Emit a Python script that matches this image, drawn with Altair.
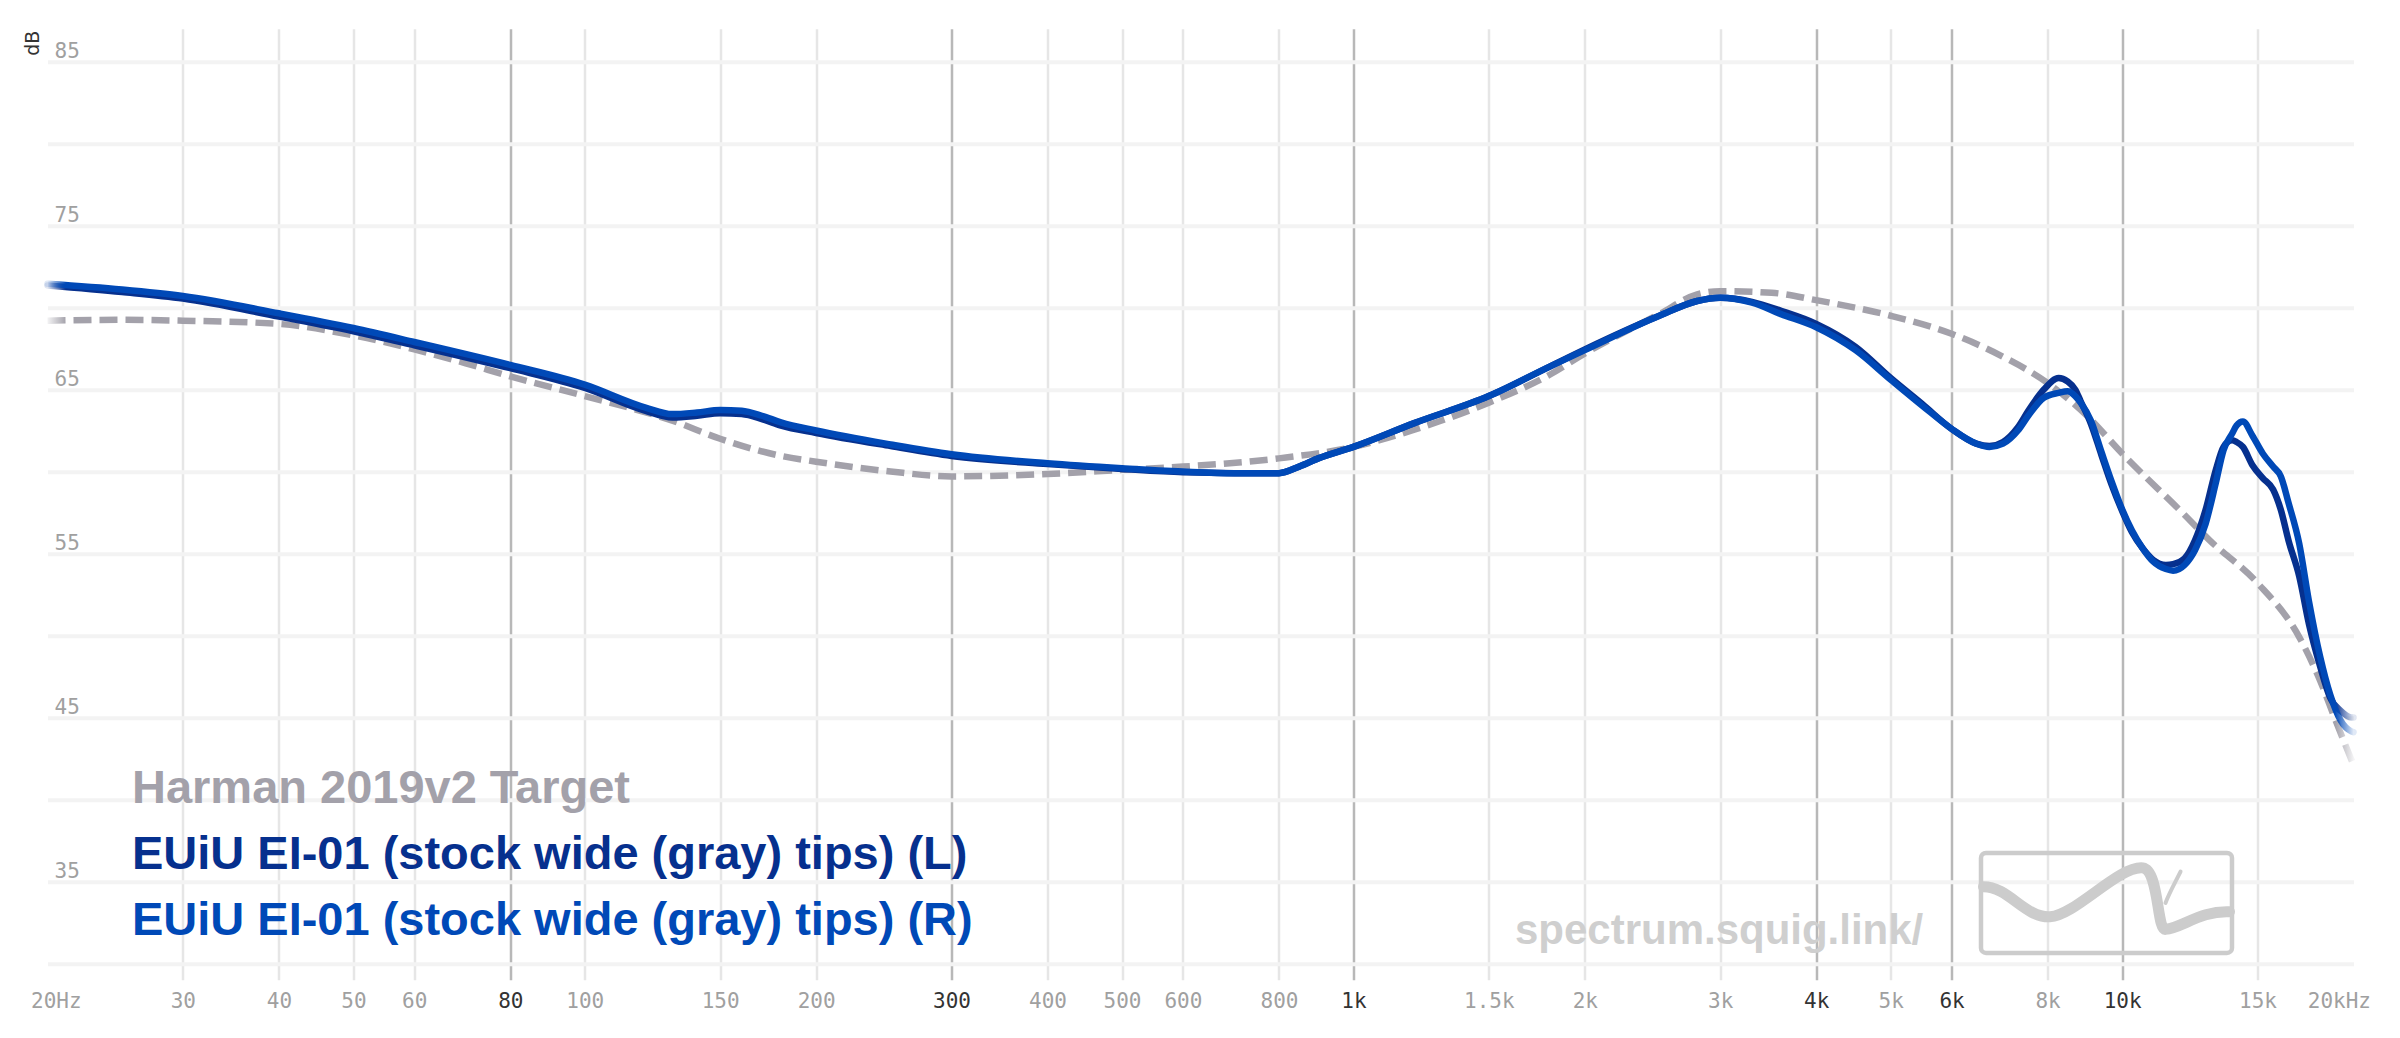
import altair as alt
import pandas as pd

# ---------------- data ----------------
FREQ = [20, 25, 30, 40, 50, 60, 80, 100, 120, 130, 140, 150, 160, 170, 180, 200, 250, 300,
        400, 500, 600, 700, 800, 850, 900, 1000, 1200, 1500, 1800, 2000, 2500, 2800, 3000,
        3300, 3600, 4000, 4500, 5000, 5500, 6000, 6460, 6720, 7000, 7320, 7550, 7910, 8270,
        8490, 8690, 8830, 9110, 9400, 9690, 10000, 10300, 10640, 10980, 11400, 11650, 12060,
        12440, 12840, 13240, 13550, 13900, 14090, 14360, 14770, 15240, 15720, 16090, 16460,
        17000, 17500, 18100, 18650, 19250, 19870, 20000]

L_DB = [71.35, 70.95, 70.55, 69.45, 68.55, 67.7, 66.3, 65.1, 63.7, 63.3, 63.4, 63.55, 63.5,
        63.2, 62.8, 62.35, 61.55, 60.95, 60.45, 60.15, 59.95, 59.9, 59.9, 60.3, 60.8, 61.5,
        62.95, 64.6, 66.4, 67.45, 69.5, 70.4, 70.6, 70.35, 69.8, 69.0, 67.6, 65.7, 64.1, 62.6,
        61.7, 61.55, 61.8, 62.7, 63.7, 65.0, 65.7, 65.5, 65.0, 64.3, 62.9, 61.0, 59.2, 57.6,
        56.3, 55.3, 54.6, 54.3, 54.35, 54.7, 55.8, 57.65, 60.1, 61.5, 61.9, 61.8, 61.5, 60.4,
        59.6, 58.9, 57.65, 55.8, 53.6, 50.7, 48.1, 46.2, 45.4, 45.0, 45.0]

R_DB = [71.45, 71.1, 70.7, 69.65, 68.75, 67.9, 66.5, 65.3, 63.9, 63.5, 63.6, 63.75, 63.7,
        63.4, 63.0, 62.5, 61.65, 61.05, 60.5, 60.2, 60.0, 59.9, 59.9, 60.3, 60.8, 61.5,
        62.95, 64.6, 66.4, 67.4, 69.5, 70.4, 70.6, 70.3, 69.6, 68.8, 67.4, 65.6, 64.0, 62.6,
        61.7, 61.5, 61.7, 62.5, 63.4, 64.5, 64.8, 64.9, 64.6, 64.2, 63.1, 61.2, 59.4, 57.7,
        56.4, 55.3, 54.5, 54.05, 53.95, 54.3, 55.2, 56.8, 59.3, 61.3, 62.3, 62.8, 63.05, 62.2,
        61.1, 60.3, 59.7, 58.1, 55.6, 52.1, 48.7, 46.4, 44.8, 44.15, 44.1]

T_FREQ = [20, 25, 30, 40, 50, 60, 70, 80, 100, 130, 150, 180, 200, 250, 300, 400, 500, 600,
          800, 1000, 1200, 1500, 1800, 2000, 2500, 2800, 3000, 3500, 4000, 5000, 6000, 7000,
          8000, 9000, 10000, 12000, 13000, 15000, 17000, 18000, 19000, 20000]
T_DB = [69.2, 69.25, 69.2, 69.0, 68.3, 67.45, 66.6, 65.8, 64.6, 63.1, 62.0, 60.95, 60.6, 60.0,
        59.7, 59.85, 60.1, 60.3, 60.8, 61.5, 62.55, 64.2, 65.9, 67.2, 69.6, 70.8, 71.0, 70.9,
        70.45, 69.5, 68.4, 67.0, 65.4, 63.4, 61.1, 57.45, 55.8, 53.2, 49.9, 47.5, 44.7, 42.1]

X_TICKS = [20, 30, 40, 50, 60, 80, 100, 150, 200, 300, 400, 500, 600, 800, 1000, 1500, 2000,
           3000, 4000, 5000, 6000, 8000, 10000, 15000, 20000]
DARK_TICKS = [80, 300, 1000, 4000, 6000, 10000]
Y_GRID = [30, 35, 40, 45, 50, 55, 60, 65, 70, 75, 80, 85]

LEGEND = ["Harman 2019v2 Target",
          "EUiU EI-01 (stock wide (gray) tips) (L)",
          "EUiU EI-01 (stock wide (gray) tips) (R)"]
WATERMARK = "spectrum.squig.link/"

# ---------------- styles ----------------
TARGET_C = "#a3a1aa"
L_C = "#06308e"
R_C = "#0049b7"


def fade(hexc):
    r, g, b = int(hexc[1:3], 16), int(hexc[3:5], 16), int(hexc[5:7], 16)
    faint = f"rgba({r},{g},{b},0.12)"
    return alt.LinearGradient(
        gradient="linear",
        stops=[alt.GradientStop(color=faint, offset=0),
               alt.GradientStop(color=hexc, offset=0.008),
               alt.GradientStop(color=hexc, offset=0.992),
               alt.GradientStop(color=faint, offset=1)],
        x1=0, x2=1, y1=0, y2=0)


dark_list = "[" + ",".join(str(v) for v in DARK_TICKS) + "]"

x_axis = alt.Axis(
    values=X_TICKS,
    labelExpr="datum.value == 20 ? '20Hz' : datum.value == 20000 ? '20kHz' : "
              "datum.value >= 1000 ? (datum.value / 1000) + 'k' : datum.label",
    labelFont="DejaVu Sans Mono", labelFontSize=21,
    labelColor={"condition": {"test": f"indexof({dark_list}, datum.value) >= 0", "value": "#333333"},
                "value": "#a0a0a0"},
    labelPadding=11, labelFlush=True, labelFlushOffset=17, labelOverlap=False,
    ticks=False, tickSize=0, domain=False, grid=True,
    gridColor={"condition": {"test": f"indexof({dark_list}, datum.value) >= 0", "value": "#b8b8b8"},
               "value": "#e6e6e6"},
    gridOpacity={"condition": {"test": "datum.value == 20 || datum.value == 20000", "value": 0},
                 "value": 1},
    gridWidth=2.5, title=None)

y_axis = alt.Axis(
    values=Y_GRID,
    labelExpr="datum.value % 10 == 5 ? datum.label : ''",
    labelAlign="left", labelBaseline="alphabetic", labelPadding=-6.5, labelOffset=-4,
    labelFont="DejaVu Sans Mono", labelFontSize=21, labelColor="#a0a0a0", labelOverlap=False,
    ticks=False, tickSize=0, domain=False, grid=True, gridColor="#f3f3f3", gridWidth=4,
    title="dB", titleX=-15.5, titleY=14, titleAngle=270, titleAlign="center",
    titleBaseline="middle", titleFont="DejaVu Sans", titleFontSize=19,
    titleFontWeight="normal", titleColor="#333333")

x_scale = alt.Scale(type="log", domain=[20, 20000], nice=False)
y_scale = alt.Scale(domain=[29, 87], nice=False, zero=False)

meas = pd.DataFrame({"freq": FREQ, "L": L_DB, "R": R_DB})
targ = pd.DataFrame({"freq": T_FREQ, "T": T_DB})

target_line = alt.Chart(targ).mark_line(
    stroke=fade(TARGET_C), strokeWidth=6.5, strokeDash=[18, 8], interpolate="monotone"
).encode(
    x=alt.X("freq:Q", scale=x_scale, axis=x_axis),
    y=alt.Y("T:Q", scale=y_scale, axis=y_axis),
)

l_line = alt.Chart(meas).mark_line(
    stroke=fade(L_C), strokeWidth=6.5, interpolate="monotone", strokeCap="round"
).encode(
    x=alt.X("freq:Q", scale=x_scale, axis=x_axis),
    y=alt.Y("L:Q", scale=y_scale, axis=y_axis),
)

r_line = alt.Chart(meas).mark_line(
    stroke=fade(R_C), strokeWidth=6.5, interpolate="monotone", strokeCap="round"
).encode(
    x=alt.X("freq:Q", scale=x_scale, axis=x_axis),
    y=alt.Y("R:Q", scale=y_scale, axis=y_axis),
)

one = pd.DataFrame({"k": [0]})


def legend_text(txt, color, ypx):
    return alt.Chart(one).mark_text(
        text=txt, font="Liberation Sans", fontWeight="bold", fontSize=47,
        color=color, align="left", baseline="alphabetic"
    ).encode(x=alt.value(84.5), y=alt.value(ypx))


leg_t = legend_text(LEGEND[0], TARGET_C, 774.2)
leg_l = legend_text(LEGEND[1], L_C, 840.2)
leg_r = legend_text(LEGEND[2], R_C, 906.2)

watermark = alt.Chart(one).mark_text(
    text=WATERMARK, font="Liberation Sans", fontWeight="bold", fontSize=42,
    color="#cfcfcf", align="left", baseline="alphabetic"
).encode(x=alt.value(1467.5), y=alt.value(915.2))

logo_box = alt.Chart(one).mark_rect(
    fill="transparent", stroke="#cccccc", strokeWidth=4.5, cornerRadius=5
).encode(x=alt.value(1933.5), x2=alt.value(2184.5), y=alt.value(824.2), y2=alt.value(924.2))

SQUIGGLE = ("M -0.98 -0.13 C -0.78 -0.13 -0.65 0.12 -0.45 0.11 "
            "C -0.25 0.1 0.1 -0.3 0.29 -0.28 C 0.42 -0.26 0.4 0.22 0.47 0.21 "
            "C 0.6 0.2 0.75 0.06 0.98 0.07")
TAIL = "M 0.59 -0.25 C 0.54 -0.15 0.5 -0.08 0.47 0.0"

logo_wave = alt.Chart(one).mark_point(
    shape=SQUIGGLE, filled=False, stroke="#cccccc", strokeWidth=11, strokeCap="round",
    opacity=1, size=251 * 251
).encode(x=alt.value(2059), y=alt.value(874.2))

logo_tail = alt.Chart(one).mark_point(
    shape=TAIL, filled=False, stroke="#cccccc", strokeWidth=4, strokeCap="round",
    opacity=1, size=251 * 251
).encode(x=alt.value(2059), y=alt.value(874.2))

chart = alt.layer(
    target_line, l_line, r_line, leg_t, leg_l, leg_r, watermark, logo_box, logo_wave, logo_tail
).properties(
    width=2306, height=951,
    autosize=alt.AutoSizeParams(type="none"),
    padding={"left": 39.5, "top": 20.8, "right": 30, "bottom": 50},
    background="white",
).configure_view(strokeWidth=0)

chart.save("out.html", embed_options={"renderer": "svg", "actions": False})
